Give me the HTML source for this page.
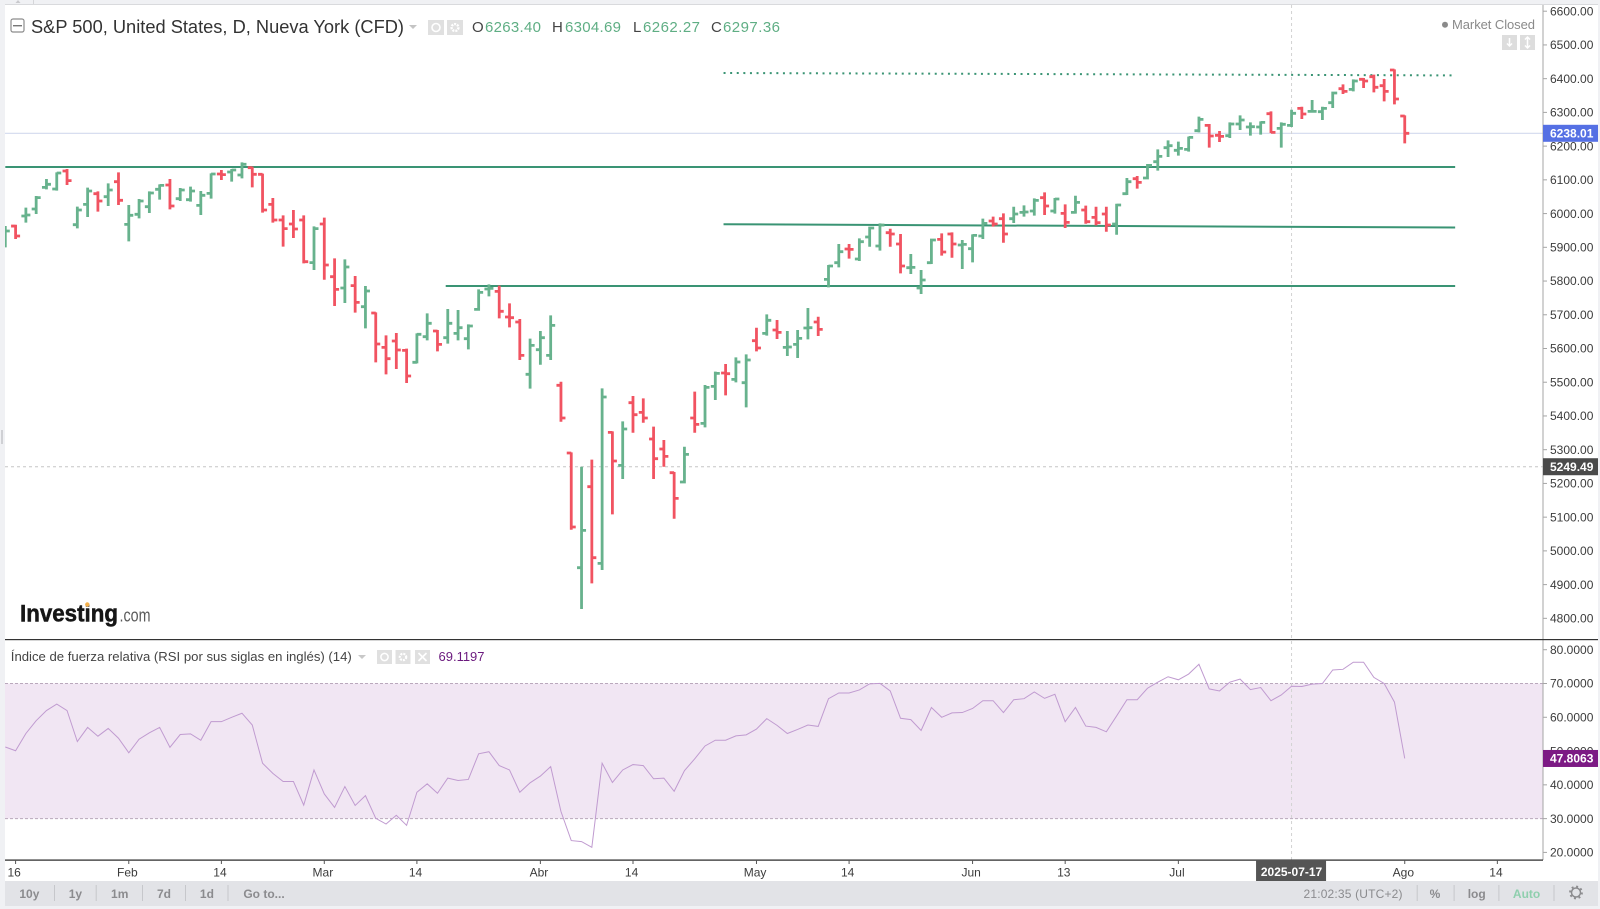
<!DOCTYPE html>
<html lang="es">
<head>
<meta charset="utf-8">
<title>S&amp;P 500 chart</title>
<style>
html,body{margin:0;padding:0;background:#fff;width:1600px;height:909px;overflow:hidden}
svg{position:absolute;left:0;top:0;display:block}
text{font-family:"Liberation Sans",Arial,sans-serif}
</style>
</head>
<body>
<svg id="chart" xmlns="http://www.w3.org/2000/svg" width="1600" height="909" viewBox="0 0 1600 909">
  <defs>
    <clipPath id="pane-clip"><rect x="5" y="5" width="1538" height="855"/></clipPath>
  </defs>
  <rect x="0" y="0" width="1600" height="909" fill="#ffffff"/>
  <rect x="0" y="0" width="1600" height="4" fill="#f0f1f4"/>
  <path d="M18 0l-2.500 3h5z" fill="#c9cacd"/>
  <rect x="33" y="0" width="1" height="4" fill="#d5d6d9"/>
  <rect x="5" y="4" width="1595" height="1" fill="#d9dadd"/>
  <rect x="0" y="0" width="5" height="909" fill="#f0f1f4"/>
  <rect x="1" y="430" width="2" height="14" fill="#cfd0d4"/>
  <rect x="1598" y="0" width="2" height="909" fill="#f0f1f4"/>
  <g id="rsi-band-layer" clip-path="url(#pane-clip)"></g>
  <g id="guides-layer" clip-path="url(#pane-clip)"></g>
  <g id="trend-layer"></g>
  <g id="bars-layer" clip-path="url(#pane-clip)"></g>
  <g id="rsi-layer" clip-path="url(#pane-clip)"></g>

  <rect x="1542.5" y="5" width="1" height="855" fill="#a5a5a5"/>
  <rect x="5" y="639" width="1593" height="1.2" fill="#333333"/>
  <rect x="5" y="859.5" width="1538" height="1.2" fill="#222222"/>
  <g id="axis-layer"></g>

  <!-- Main legend -->
  <g>
    <g>
      <rect x="11" y="19" width="13" height="13" rx="2" fill="none" stroke="#8c8c8c" stroke-width="1.2"/>
      <rect x="13" y="25" width="9" height="1.4" fill="#777"/>
    </g>
    <text x="31" y="33" font-size="18" fill="#333333" textLength="373" lengthAdjust="spacingAndGlyphs">S&amp;P 500, United States, D, Nueva York (CFD)</text>
    <path d="M409 25h8l-4 4z" fill="#c4c4c4"/>
    <g>
      <rect x="428" y="20" width="16" height="15" fill="#e0e0e0"/>
      <circle cx="436" cy="27.5" r="4" fill="none" stroke="#fff" stroke-width="1.6"/>
    </g>
    <g>
      <rect x="447" y="20" width="16" height="15" fill="#e0e0e0"/>
      <circle cx="455" cy="27.5" r="3.4" fill="none" stroke="#fff" stroke-width="2.4" stroke-dasharray="2 1"/>
    </g>
    <text x="472" y="32" font-size="15" fill="#444">O</text>
    <text x="485" y="32" font-size="15" fill="#5fae84" textLength="56">6263.40</text>
    <text x="552" y="32" font-size="15" fill="#444">H</text>
    <text x="565" y="32" font-size="15" fill="#5fae84" textLength="56">6304.69</text>
    <text x="633" y="32" font-size="15" fill="#444">L</text>
    <text x="643" y="32" font-size="15" fill="#5fae84" textLength="57">6262.27</text>
    <text x="711" y="32" font-size="15" fill="#444">C</text>
    <text x="723" y="32" font-size="15" fill="#5fae84" textLength="57">6297.36</text>
  </g>

  <!-- Market status -->
  <circle cx="1445" cy="24.7" r="3" fill="#8a8a8a"/>
  <text x="1452" y="29" font-size="13" fill="#8a8a8a" textLength="83">Market Closed</text>
  <g>
    <rect x="1502" y="35" width="15" height="15" fill="#dddddd"/>
    <path d="M1509.5 38v8m-2.5-2.5l2.5 2.5 2.5-2.5" stroke="#fff" stroke-width="1.5" fill="none"/>
  </g>
  <g>
    <rect x="1520" y="35" width="15" height="15" fill="#dddddd"/>
    <path d="M1527.5 37v11m-2.5-8.500l2.500-2.500 2.500 2.500m-5 6l2.500 2.500 2.500-2.500" stroke="#fff" stroke-width="1.5" fill="none"/>
  </g>

  <!-- Logo -->
  <g>
    <text x="20" y="621.500" font-size="24" font-weight="bold" fill="#161616" stroke="#161616" stroke-width="0.5" textLength="98" lengthAdjust="spacingAndGlyphs">Investing</text>
    <circle cx="87.300" cy="604.500" r="2.200" fill="#f5b14c"/>
    <text x="119.500" y="621.500" font-size="18" fill="#5a5a5a" textLength="31" lengthAdjust="spacingAndGlyphs">.com</text>
  </g>

  <!-- RSI legend -->
  <g>
    <text x="10.800" y="661" font-size="13" fill="#444444" textLength="341" lengthAdjust="spacingAndGlyphs">Índice de fuerza relativa (RSI por sus siglas en inglés) (14)</text>
    <path d="M358 655h8l-4 4z" fill="#c8c8c8"/>
    <g>
      <rect x="377" y="650" width="15" height="14" fill="#e0e0e0"/>
      <circle cx="384.500" cy="657" r="3.600" fill="none" stroke="#fff" stroke-width="1.500"/>
    </g>
    <g>
      <rect x="395.500" y="650" width="15" height="14" fill="#e0e0e0"/>
      <circle cx="403" cy="657" r="3.200" fill="none" stroke="#fff" stroke-width="2.200" stroke-dasharray="2 1"/>
    </g>
    <g>
      <rect x="415" y="650" width="15" height="14" fill="#e0e0e0"/>
      <path d="M418.500 653l8 8m0-8l-8 8" stroke="#fff" stroke-width="1.600"/>
    </g>
    <text x="438.500" y="661" font-size="13" fill="#6b1a7e" textLength="46">69.1197</text>
  </g>

  <!-- Bottom toolbar -->
  <g>
    <rect x="5" y="881" width="1593" height="25" fill="#e2e3e7"/>
    <rect x="5" y="906" width="1593" height="3" fill="#f0f1f4"/>
    <g font-size="12" font-weight="bold" fill="#8b8b8e" text-anchor="middle">
      <text x="29.400" y="898">10y</text>
      <text x="75.400" y="898">1y</text>
      <text x="119.700" y="898">1m</text>
      <text x="164" y="898">7d</text>
      <text x="206.900" y="898">1d</text>
      <text x="264" y="898">Go to...</text>
      <text x="1353" y="898" font-weight="normal" textLength="99">21:02:35 (UTC+2)</text>
      <text x="1435" y="898">%</text>
      <text x="1476.700" y="898">log</text>
      <text x="1526.600" y="898" fill="#8fcfae">Auto</text>
    </g>
    <g fill="#c6c7cb">
      <rect x="54" y="885" width="1" height="16"/><rect x="95.700" y="885" width="1" height="16"/>
      <rect x="142" y="885" width="1" height="16"/><rect x="185" y="885" width="1" height="16"/>
      <rect x="227.500" y="885" width="1" height="16"/><rect x="1416.700" y="885" width="1" height="16"/>
      <rect x="1453.600" y="885" width="1" height="16"/><rect x="1498.400" y="885" width="1" height="16"/>
      <rect x="1553.500" y="885" width="1" height="16"/>
    </g>
    <g>
      <circle cx="1576" cy="892.500" r="4.500" fill="none" stroke="#8b8b8e" stroke-width="1.500"/>
      <circle cx="1576" cy="892.500" r="6" fill="none" stroke="#8b8b8e" stroke-width="1.800" stroke-dasharray="2 2.700"/>
    </g>
  </g>
  <g id="badge-layer"></g>
</svg>

<script>
// ---------- Chart data ----------
const barIndexes = Array.from({length: 137}, (_, i) => i);
const opens = [
5921.7,5963,5992.8,6013.6,6077.8,6072.9,6126.2,5967.1,6027.4,6059,
6050.1,6094.6,5968.1,5997.8,6020.5,6071.9,6084.7,6044.2,6041.2,6024.4,
6060,6117.3,6123.3,6114.4,6136.1,6116.4,6027.4,5981,5969.1,5981,
5854.5,5969.1,5812.9,5779.3,5786.3,5724,5705.2,5603.4,5622.2,5594.5,
5559,5635,5651.8,5632.1,5644.9,5629.1,5716.1,5776.4,5769.4,5693.4,
5678.5,5523.4,5596.5,5579.7,5490.8,5290.1,4950.1,5190.3,4963,5351.4,
5253.6,5439.4,5410.7,5331.6,5302,5231.8,5204.1,5393.9,5378.1,5487.8,
5527.3,5508.5,5498.7,5623.2,5644.9,5654.8,5603.4,5612.3,5660.7,5678.5,
5805,5854.4,5894.9,5865.3,5930.5,5903.8,5943.3,5909.8,5839.6,5779.3,
5854.4,5923.6,5939.4,5906.8,5895.9,5933.5,5978,5984.9,5984.9,6003.6,
6007.6,6047.1,6007.6,6000.7,6003.6,6010.6,5988.8,5998.7,5969.1,6059,
6103.5,6105.4,6153.9,6195.4,6187.5,6190.4,6245.8,6261.6,6232,6231,
6265.5,6256.7,6256.7,6296.2,6252.7,6261.6,6312,6303.1,6302.1,6328.8,
6370.3,6368.3,6398,6405.9,6379.2,6425.7,6289.3];
const highs = [
5963.2,5967,6017.5,6052,6102.5,6122.3,6132.2,6020.5,6076.8,6066,
6089.7,6122.3,6025.4,6043.2,6066,6086.7,6102.5,6075.8,6079.8,6066.9,
6119.3,6129.2,6132.2,6151.9,6139.1,6118.3,6046.2,5994.8,6010.6,5994.8,
5962.2,5987.9,5867.3,5864.3,5814.9,5785.3,5707.2,5639,5645.9,5599.5,
5644.9,5704.2,5654.8,5717.1,5714.1,5671.6,5775.4,5790.2,5786.3,5733.9,
5687.4,5629.1,5651.8,5698.3,5501.6,5292.1,5249.6,5270.4,5481.9,5354.4,
5384,5459.1,5452.2,5368.2,5328.7,5233.8,5308.9,5472,5491.7,5531.3,
5554,5573.8,5582.7,5661.7,5701.3,5684.5,5651.8,5654.8,5720,5694.3,
5847.5,5909.8,5909.8,5926.6,5961.2,5971,5955.2,5939.4,5880.1,5832.6,
5925.6,5941.4,5944.3,5921.6,5938.4,5984.9,5990.8,6000.7,6020.4,6024.4,
6045.2,6062.9,6046.1,6027.4,6053,6023.4,6020.4,6020.4,6029.3,6105.4,
6111.4,6147,6190.4,6217.1,6213.2,6228,6287.3,6265.5,6244.8,6270.5,
6291.2,6270.5,6273.5,6303.1,6270.5,6308,6316.9,6336.7,6316.9,6361.4,
6383.2,6398,6401.9,6411.8,6399,6427.6,6291.2];
const lows = [
5899.9,5924.6,5973,5998.7,6071.9,6067.9,6084.7,5956.2,5989.9,6005.7,
6022.5,6025.4,5917.7,5985.9,6001.7,6041.2,6012.6,6037.3,6035.3,5995.8,
6044.2,6099.6,6094.6,6104.5,6077.8,6002.7,5973,5901.9,5927.6,5852.5,
5832.7,5804,5726,5734.9,5706.2,5659.8,5559,5523.4,5539.2,5497.7,
5556,5624.2,5591.6,5614.3,5624.2,5597.5,5712.1,5754.6,5689.4,5662.7,
5565.9,5480.9,5552,5565.9,5383,5062.8,4827.6,4903.7,4943.2,5108.3,
5213,5350.4,5380,5213,5249.6,5095.4,5200.2,5350.4,5366.2,5447.3,
5461.1,5499.6,5425.5,5591.6,5638,5628.1,5577.7,5571.8,5627.1,5637,
5781.3,5840.6,5866.3,5859.4,5901.8,5890,5901.8,5822.8,5820.8,5761.5,
5850.5,5875.2,5869.2,5835.6,5855.4,5924.6,5961.2,5913.7,5972,5990.8,
5993.8,5995.7,5999.7,5957.2,5999.7,5970,5965.1,5946.3,5937.4,6055,
6073.8,6101.5,6127.2,6167.7,6171.7,6183.5,6240.8,6195.4,6212.2,6224,
6247.8,6231,6233.9,6238.9,6195.4,6256.7,6280.4,6300.1,6277.4,6313,
6354.5,6362.4,6372.3,6359.4,6332.8,6323.9,6208.2];
const closes = [
5948.3,5933.5,5995.8,6047.2,6086.7,6120.3,6097.6,6010.6,6066.9,6037.3,
6069.9,6039.3,5994.8,6037.3,6061,6083.7,6022.5,6069.9,6066.9,6054.1,
6117.3,6115.4,6129.2,6146,6116.4,6010.6,5981,5955.3,5954.3,5857.4,
5955.3,5847.5,5775.4,5841.6,5736.8,5770.4,5613.3,5569.8,5595.5,5518.4,
5642,5674.6,5612.3,5674.6,5661.7,5666.7,5766.5,5778.3,5710.2,5691.4,
5579.7,5609.3,5632.1,5668.6,5393.9,5070.7,5060.8,4979.8,5456.2,5266.4,
5361.3,5403.8,5393.9,5273.3,5280.2,5155.7,5286.2,5375.1,5484.8,5526.3,
5525.3,5559.9,5565.9,5601.4,5683.5,5647.9,5604.4,5630.1,5661.7,5656.8,
5844.5,5887,5893.9,5916.7,5957.2,5966,5939.4,5844.5,5840.6,5803,
5921.6,5886,5909.8,5908.8,5935.4,5971,5969.1,5939.4,5998.7,6004.6,
6039.2,6022.4,6043.2,5974,6033.3,5976,5973,5966.1,6025.4,6094.6,
6092.6,6143,6169.7,6201.3,6193.4,6226,6279.4,6230,6229,6265.5,
6277.4,6257.6,6270.5,6240.8,6264.6,6297.2,6295.2,6303.1,6312,6357.5,
6362.4,6393,6393,6374.3,6362.4,6339.7,6238.01];
const rsiValues = [
51.2,50.1,55.2,59,62,63.9,62,52.8,57,54.4,
56.7,53.8,49.5,53.5,55.4,57,51.1,54.9,55.1,53.2,
58.7,58.7,60,61.2,57.7,46.4,43.4,41,41,34,
44.4,37.3,33.3,39.5,33.9,36.8,30.1,28.4,31,28,
37.8,40.3,37.5,42,41.3,41.6,49.2,49.8,45.7,44.4,
37.8,40.6,42.6,45.4,32.1,23.5,23.2,21.5,46.4,40.7,
44.4,46,45.7,41.8,42,38.1,44.2,47.7,51.5,53.2,
53.2,54.5,54.8,56.5,59.6,57.6,55.2,56.4,57.7,57.3,
65.5,67.2,67.2,68.1,69.9,70.05,67.8,59.7,59.3,56.1,
62.9,60,61.3,61.4,62.6,64.9,64.9,61.4,65.2,65.5,
67.5,65.6,66.8,58.7,62.9,57.4,57,55.7,60.4,65.2,
65.2,68.6,70.4,72,71.1,72.8,75.7,68.4,67.8,70.4,
71.3,68.2,68.8,64.9,66.6,69.2,69.1,69.8,70,74,
74.2,76.3,76.3,71.8,70,64.5,47.8063];
const priceTicks = [6600,6500,6400,6300,6200,6100,6000,5900,5800,5700,5600,5500,5400,5300,5200,5100,5000,4900,4800];
const rsiTicks = [80,70,60,50,40,30,20];
const rsiBounds = [30,70];
const timeTickBars = [1,12,21,31,40,52,61,73,82,94,103,114,136,145];
const timeTickLabels = ["16","Feb","14","Mar","14","Abr","14","May","14","Jun","13","Jul","Ago","14"];
const trendStartBars = [0,42.8,69.8];
const trendEndBars = [140.9,140.9,140.9];
const trendStartPrices = [6138,5785.2,5968.4];
const trendEndPrices = [6138,5785.2,5958.6];
const resistanceBars = [69.8,140.9];
const resistancePrices = [6416.8,6409.6];
const lastPrice = 6238.01;
const crosshairPrice = 5249.49;
const crosshairBar = 125;
const crosshairDate = "2025-07-17";
const lastRsi = 47.8063;

// ---------- Axis functions ----------
function barX(i) { return 5.3 + 10.29 * i; }
function priceY(p) { return 11.2 + (6600 - p) * 0.3373; }
function rsiY(v) { return 683.5 + (70 - v) * 3.378; }

const NS = 'http://www.w3.org/2000/svg';
function mk(parentId, tag, attrs, txt) {
  const el = document.createElementNS(NS, tag);
  for (const k in attrs) el.setAttribute(k, attrs[k]);
  if (txt !== undefined) el.textContent = txt;
  document.getElementById(parentId).appendChild(el);
  return el;
}

// ---------- RSI band ----------
{
  const el = mk('rsi-band-layer', 'rect', {x: 5, y: rsiY(rsiBounds[1]), width: 1538, height: rsiY(rsiBounds[0]) - rsiY(rsiBounds[1]), fill: '#f1e6f3'});
  
  
}
rsiBounds.forEach(function (b) {
  const el = mk('rsi-band-layer', 'line', {x1: 5, x2: 1543, y1: rsiY(b), y2: rsiY(b), stroke: '#b9a8bc', 'stroke-width': 1, 'stroke-dasharray': '3 2'});
  
  
});

// ---------- Guides ----------
{
  const el = mk('guides-layer', 'line', {x1: 5, x2: 1543, y1: priceY(lastPrice), y2: priceY(lastPrice), stroke: '#d3d9ee', 'stroke-width': 1.2});
  
  
}
{
  const el = mk('guides-layer', 'line', {x1: 5, x2: 1543, y1: priceY(crosshairPrice), y2: priceY(crosshairPrice), stroke: '#c6c6c6', 'stroke-width': 1, 'stroke-dasharray': '3 3'});
  
  
}
{
  const el = mk('guides-layer', 'line', {x1: barX(crosshairBar), x2: barX(crosshairBar), y1: 5, y2: 860, stroke: '#d2d2d2', 'stroke-width': 1, 'stroke-dasharray': '3 3'});
  
  
}

// ---------- Bars ----------
barIndexes.forEach(function (i) {
  const color = closes[i] >= opens[i] ? '#67b28d' : '#f15361';
  const x = barX(i);
  const g = mk('bars-layer', 'g', {stroke: color, 'stroke-width': 2.8, fill: 'none'});
  
  
  const stem = document.createElementNS(NS, 'path');
  stem.setAttribute('d', 'M' + x + ' ' + priceY(highs[i]) + 'V' + priceY(lows[i]) +
    'M' + (x - 4.5) + ' ' + priceY(opens[i]) + 'H' + x +
    'M' + x + ' ' + priceY(closes[i]) + 'H' + (x + 4.5));
  g.appendChild(stem);
});

// ---------- Trend lines ----------
trendStartBars.forEach(function (s, k) {
  const el = mk('trend-layer', 'line', {
    x1: Math.max(5, barX(s)), x2: barX(trendEndBars[k]),
    y1: priceY(trendStartPrices[k]), y2: priceY(trendEndPrices[k]),
    stroke: '#3a9474', 'stroke-width': 2
  });
  
  
});
{
  const el = mk('trend-layer', 'line', {
    x1: barX(resistanceBars[0]), x2: barX(resistanceBars[1]),
    y1: priceY(resistancePrices[0]), y2: priceY(resistancePrices[1]),
    stroke: '#3a9474', 'stroke-width': 2, 'stroke-dasharray': '2 4.6'
  });
  
  
}

// ---------- RSI line ----------
{
  const pts = rsiValues.map(function (v, i) { return barX(i) + ',' + rsiY(v); }).join(' ');
  const el = mk('rsi-layer', 'polyline', {points: pts, fill: 'none', stroke: '#c09bd0', 'stroke-width': 1});
  
  
}

// ---------- Axes ----------
priceTicks.forEach(function (p) {
  const t = mk('axis-layer', 'line', {x1: 1543, x2: 1547, y1: priceY(p), y2: priceY(p), stroke: '#a5a5a5', 'stroke-width': 1});
  
  
  const l = mk('axis-layer', 'text', {x: 1550, y: priceY(p) + 4.2, 'font-size': 12, fill: '#3c3c3c'}, p.toFixed(2));
  
  
});
rsiTicks.forEach(function (v) {
  const t = mk('axis-layer', 'line', {x1: 1543, x2: 1547, y1: rsiY(v), y2: rsiY(v), stroke: '#a5a5a5', 'stroke-width': 1});
  
  
  const l = mk('axis-layer', 'text', {x: 1550, y: rsiY(v) + 4.2, 'font-size': 12, fill: '#3c3c3c'}, v.toFixed(4));
  
  
});
timeTickBars.forEach(function (b, k) {
  const t = mk('axis-layer', 'line', {x1: barX(b), x2: barX(b), y1: 860, y2: 864, stroke: '#555555', 'stroke-width': 1});
  
  
  const l = mk('axis-layer', 'text', {x: barX(b) - 1.4, y: 876.500, 'font-size': 12, fill: '#3c3c3c', 'text-anchor': 'middle'}, timeTickLabels[k]);
  
  
});

// ---------- Badges ----------
function badge(y, fill, label) {
  const r = mk('badge-layer', 'rect', {x: 1543, y: y - 8.500, width: 55, height: 17, fill: fill});
  
  
  const t = mk('badge-layer', 'text', {x: 1550, y: y + 4.200, 'font-size': 12, 'font-weight': 'bold', fill: '#ffffff'}, label);
  
  
}
badge(priceY(lastPrice), '#5570e4', lastPrice.toFixed(2));
badge(priceY(crosshairPrice), '#4a4a4a', crosshairPrice.toFixed(2));
badge(rsiY(lastRsi), '#7c1a84', lastRsi.toFixed(4));
{
  const r = mk('badge-layer', 'rect', {x: barX(crosshairBar) - 35.500, y: 860, width: 70, height: 21, fill: '#555555'});
  
  
  const t = mk('badge-layer', 'text', {x: barX(crosshairBar), y: 876, 'font-size': 12, 'font-weight': 'bold', fill: '#ffffff', 'text-anchor': 'middle'}, crosshairDate);
  
  
}
</script>
</body>
</html>
